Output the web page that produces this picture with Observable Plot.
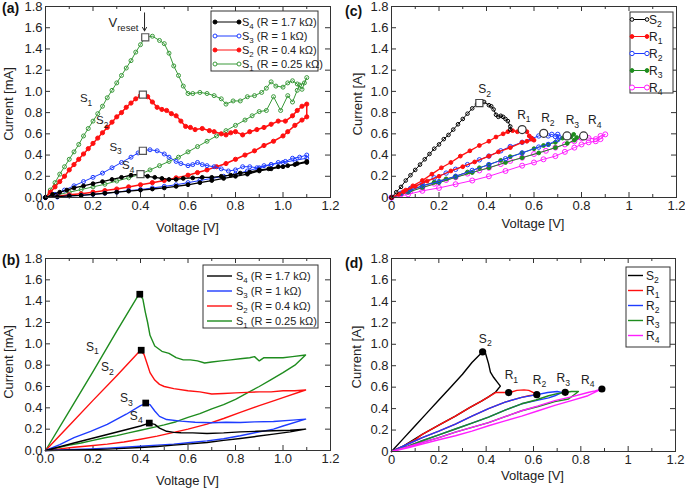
<!DOCTYPE html>
<html><head><meta charset="utf-8">
<script src="https://cdn.jsdelivr.net/npm/d3@7"></script>
<script src="https://cdn.jsdelivr.net/npm/@observablehq/plot@0.6"></script>
<style>
body{margin:0;background:#fff;}
#wrap{position:relative;width:685px;height:488px;overflow:hidden;}
#wrap > .pn{position:absolute;}
</style></head><body><div id="wrap"></div>
<script>
// ---------- tick values and labels ----------
const X_TICKS = [0, 0.2, 0.4, 0.6, 0.8, 1.0, 1.2];
const X_MINOR = [0.1, 0.3, 0.5, 0.7, 0.9, 1.1];
const Y_TICKS = [0, 0.2, 0.4, 0.6, 0.8, 1.0, 1.2, 1.4, 1.6, 1.8];
const X_LABELS_AB = ["0.0","0.2","0.4","0.6","0.8","1.0","1.2"];
const Y_LABELS_AB = ["0.0","0.2","0.4","0.6","0.8","1.0","1.2","1.4","1.6","1.8"];
const X_LABELS_CD = ["0","0.2","0.4","0.6","0.8","1","1.2"];
const Y_LABELS_CD = ["0","0.2","0.4","0.6","0.8","1.0","1.2","1.4","1.6","1.8"];

// ---------- panel (a): measured I-V loops [V, mA] ----------
const a_S1 = [[0,0],[0.02,0.07],[0.04,0.14],[0.06,0.22],[0.08,0.29],[0.10,0.36],[0.12,0.43],[0.14,0.50],[0.16,0.58],[0.18,0.65],[0.20,0.72],[0.22,0.79],[0.24,0.86],[0.26,0.94],[0.28,1.01],[0.30,1.08],[0.32,1.15],[0.34,1.22],[0.36,1.29],[0.38,1.37],[0.40,1.44],[0.42,1.51],[0.45,1.52],[0.48,1.48],[0.50,1.45],[0.52,1.36],[0.54,1.24],[0.56,1.15],[0.58,1.05],[0.60,0.98],[0.62,0.98],[0.65,0.99],[0.68,0.98],[0.71,0.96],[0.74,0.93],[0.76,0.88],[0.79,0.91],[0.82,0.91],[0.85,0.95],[0.88,0.96],[0.91,0.99],[0.93,1.03],[0.95,1.09],[0.97,1.05],[1.00,1.04],[1.02,1.08],[1.04,1.10],[1.06,1.07],[1.08,1.02],[1.10,1.13],
  [1.09,1.08],[1.07,1.06],[1.06,1.01],[1.04,0.90],[1.02,0.96],[0.99,0.82],[0.96,0.95],[0.93,0.82],[0.90,0.81],[0.87,0.77],[0.84,0.73],[0.80,0.68],[0.76,0.63],[0.72,0.58],[0.68,0.53],[0.64,0.48],[0.60,0.43],[0.56,0.38],[0.52,0.34],[0.48,0.30],[0.44,0.26],[0.40,0.22],[0.35,0.185],[0.30,0.155],[0.25,0.125],[0.20,0.10],[0.15,0.075],[0.10,0.05],[0.05,0.025],[0,0]];
const a_S2 = [[0,0],[0.02,0.05],[0.04,0.10],[0.06,0.15],[0.08,0.20],[0.10,0.26],[0.12,0.31],[0.14,0.36],[0.16,0.41],[0.18,0.46],[0.20,0.51],[0.22,0.56],[0.24,0.61],[0.26,0.66],[0.28,0.71],[0.30,0.76],[0.32,0.80],[0.34,0.85],[0.36,0.89],[0.38,0.93],[0.40,0.96],[0.41,0.97],[0.43,0.95],[0.45,0.90],[0.47,0.85],[0.49,0.83],[0.51,0.82],[0.53,0.79],[0.55,0.77],[0.57,0.72],[0.59,0.67],[0.61,0.66],[0.63,0.64],[0.66,0.65],[0.69,0.63],[0.71,0.62],[0.74,0.60],[0.76,0.59],[0.78,0.61],[0.80,0.62],[0.83,0.59],[0.86,0.62],[0.89,0.64],[0.92,0.66],[0.95,0.69],[0.98,0.72],[1.01,0.72],[1.04,0.77],[1.06,0.82],[1.08,0.86],[1.10,0.88],
  [1.10,0.76],[1.08,0.73],[1.05,0.68],[1.02,0.62],[1.00,0.58],[0.96,0.53],[0.92,0.49],[0.88,0.44],[0.84,0.40],[0.80,0.36],[0.76,0.32],[0.72,0.29],[0.68,0.26],[0.64,0.235],[0.60,0.21],[0.55,0.185],[0.50,0.16],[0.45,0.14],[0.40,0.12],[0.35,0.10],[0.30,0.08],[0.25,0.065],[0.20,0.05],[0.15,0.035],[0.10,0.025],[0.05,0.012],[0,0]];
const a_S3 = [[0,0],[0.04,0.03],[0.08,0.07],[0.12,0.11],[0.16,0.15],[0.20,0.19],[0.24,0.23],[0.28,0.28],[0.32,0.33],[0.36,0.38],[0.39,0.42],[0.41,0.44],[0.44,0.45],[0.47,0.44],[0.50,0.41],[0.52,0.38],[0.55,0.34],[0.57,0.32],[0.60,0.30],[0.62,0.31],[0.64,0.33],[0.66,0.31],[0.68,0.30],[0.71,0.29],[0.74,0.27],[0.77,0.25],[0.80,0.26],[0.83,0.29],[0.86,0.29],[0.89,0.28],[0.92,0.30],[0.95,0.31],[0.98,0.33],[1.01,0.34],[1.04,0.37],[1.07,0.38],[1.10,0.40],
  [1.10,0.37],[1.05,0.35],[1.00,0.33],[0.95,0.31],[0.90,0.28],[0.85,0.25],[0.80,0.22],[0.75,0.20],[0.70,0.18],[0.65,0.16],[0.60,0.14],[0.55,0.12],[0.50,0.105],[0.45,0.09],[0.40,0.075],[0.35,0.065],[0.30,0.05],[0.25,0.04],[0.20,0.03],[0.15,0.02],[0.10,0.015],[0.05,0.005],[0,0]];
const a_S4 = [[0,0],[0.03,0.03],[0.06,0.05],[0.09,0.07],[0.12,0.09],[0.16,0.11],[0.20,0.13],[0.24,0.15],[0.28,0.17],[0.32,0.19],[0.36,0.21],[0.40,0.22],[0.43,0.20],[0.46,0.19],[0.49,0.18],[0.52,0.17],[0.55,0.17],[0.58,0.18],[0.62,0.185],[0.66,0.19],[0.70,0.19],[0.74,0.20],[0.78,0.21],[0.82,0.23],[0.86,0.24],[0.90,0.26],[0.94,0.27],[0.98,0.29],[1.02,0.30],[1.06,0.32],[1.10,0.34],
  [1.10,0.33],[1.05,0.31],[1.00,0.29],[0.95,0.27],[0.90,0.25],[0.85,0.22],[0.80,0.20],[0.75,0.18],[0.70,0.16],[0.65,0.14],[0.60,0.12],[0.55,0.105],[0.50,0.09],[0.45,0.08],[0.40,0.07],[0.35,0.06],[0.30,0.05],[0.25,0.04],[0.20,0.03],[0.15,0.02],[0.10,0.015],[0.05,0.008],[0,0]];
const a_peaks = [[0.42,1.51],[0.41,0.97],[0.41,0.44],[0.40,0.22]];
const a_vreset = [[0.417,1.74,1.57]];
const a_labels = [["S","1",0.164,0.93],["S","2",0.232,0.726],["S","3",0.288,0.474],["S","4",0.341,0.30]];

// ---------- panel (b): simulated loops [V, mA] ----------
const b_S1 = [[0,0],[0.1,0.37],[0.2,0.74],[0.3,1.12],[0.395,1.47],[0.41,1.42],[0.42,1.30],[0.43,1.20],[0.44,1.08],[0.46,0.98],[0.49,0.93],[0.52,0.91],[0.55,0.87],[0.58,0.85],[0.61,0.85],[0.64,0.84],[0.67,0.82],[0.70,0.83],[0.74,0.84],[0.78,0.85],[0.82,0.86],[0.86,0.87],[0.88,0.88],[0.90,0.84],[0.92,0.87],[0.96,0.87],[1.00,0.87],[1.04,0.88],[1.095,0.895],
  [1.05,0.80],[1.00,0.73],[0.95,0.665],[0.90,0.60],[0.85,0.54],[0.80,0.48],[0.75,0.43],[0.70,0.39],[0.65,0.345],[0.60,0.31],[0.55,0.27],[0.50,0.24],[0.45,0.215],[0.40,0.19],[0.35,0.165],[0.30,0.14],[0.25,0.12],[0.20,0.095],[0.15,0.07],[0.10,0.05],[0.05,0.025],[0,0]];
const b_S2 = [[0,0],[0.1,0.235],[0.2,0.47],[0.3,0.70],[0.40,0.94],[0.415,0.90],[0.43,0.80],[0.44,0.73],[0.46,0.66],[0.48,0.62],[0.50,0.60],[0.54,0.58],[0.60,0.56],[0.65,0.55],[0.70,0.53],[0.75,0.535],[0.80,0.54],[0.85,0.545],[0.90,0.55],[0.95,0.55],[1.00,0.56],[1.05,0.56],[1.095,0.567],
  [1.00,0.495],[0.96,0.466],[0.90,0.42],[0.82,0.357],[0.75,0.30],[0.68,0.247],[0.60,0.20],[0.54,0.17],[0.47,0.135],[0.40,0.106],[0.33,0.08],[0.26,0.06],[0.19,0.045],[0.12,0.03],[0.06,0.015],[0,0]];
const b_S3 = [[0,0],[0.06,0.055],[0.12,0.12],[0.19,0.18],[0.26,0.245],[0.34,0.34],[0.40,0.42],[0.422,0.44],[0.44,0.43],[0.46,0.37],[0.48,0.32],[0.51,0.29],[0.57,0.275],[0.63,0.265],[0.70,0.26],[0.76,0.265],[0.82,0.263],[0.88,0.268],[0.96,0.272],[1.04,0.285],[1.095,0.294],
  [1.00,0.23],[0.96,0.20],[0.89,0.17],[0.82,0.138],[0.75,0.11],[0.68,0.09],[0.61,0.075],[0.54,0.06],[0.47,0.05],[0.40,0.04],[0.33,0.03],[0.26,0.022],[0.19,0.015],[0.12,0.01],[0,0]];
const b_S4 = [[0,0],[0.06,0.035],[0.12,0.07],[0.19,0.11],[0.26,0.15],[0.33,0.19],[0.40,0.23],[0.437,0.257],[0.46,0.245],[0.48,0.21],[0.51,0.18],[0.54,0.17],[0.57,0.166],[0.62,0.165],[0.68,0.16],[0.75,0.165],[0.82,0.175],[0.89,0.18],[0.96,0.185],[1.03,0.19],[1.095,0.20],
  [1.03,0.175],[0.96,0.153],[0.89,0.133],[0.82,0.113],[0.75,0.095],[0.68,0.075],[0.61,0.062],[0.54,0.05],[0.47,0.038],[0.40,0.028],[0.33,0.02],[0.26,0.013],[0.19,0.008],[0.12,0.005],[0,0]];
const b_peaks = [[0.397,1.465],[0.403,0.94],[0.422,0.445],[0.437,0.257]];
const b_labels = [["S","1",0.19,0.97],["S","2",0.253,0.78],["S","3",0.333,0.49],["S","4",0.375,0.326]];

// ---------- panel (c): measured loops [V, A] ----------
const c_S2 = [[0,0],[0.02,0.05],[0.04,0.10],[0.06,0.16],[0.08,0.21],[0.10,0.26],[0.12,0.31],[0.14,0.36],[0.16,0.41],[0.18,0.46],[0.20,0.50],[0.22,0.55],[0.24,0.59],[0.26,0.64],[0.28,0.69],[0.30,0.74],[0.32,0.79],[0.34,0.84],[0.36,0.88],[0.37,0.89],[0.39,0.90],[0.41,0.87],[0.42,0.86],[0.43,0.83],[0.44,0.78],[0.45,0.76],[0.46,0.77],[0.47,0.76],[0.48,0.74],[0.49,0.72],[0.50,0.67],[0.50,0.64]];
const c_R1 = [[0,0],[0.03,0.03],[0.06,0.07],[0.09,0.11],[0.13,0.16],[0.17,0.22],[0.21,0.28],[0.25,0.33],[0.29,0.39],[0.33,0.44],[0.37,0.49],[0.41,0.53],[0.44,0.57],[0.47,0.60],[0.49,0.62],[0.51,0.63],[0.53,0.62],[0.55,0.64],[0.57,0.62],[0.58,0.58],[0.59,0.56],[0.60,0.54],
  [0.57,0.53],[0.55,0.52],[0.50,0.47],[0.45,0.43],[0.41,0.39],[0.35,0.335],[0.30,0.29],[0.25,0.25],[0.20,0.20],[0.15,0.155],[0.10,0.105],[0.05,0.055],[0,0]];
const c_R2 = [[0,0],[0.04,0.04],[0.08,0.085],[0.13,0.14],[0.18,0.185],[0.23,0.23],[0.27,0.266],[0.32,0.31],[0.37,0.355],[0.41,0.39],[0.46,0.44],[0.50,0.48],[0.55,0.52],[0.59,0.555],[0.62,0.58],[0.645,0.60],[0.66,0.58],[0.675,0.595],[0.69,0.575],[0.70,0.595],[0.705,0.57],
  [0.70,0.545],[0.66,0.50],[0.62,0.475],[0.55,0.42],[0.48,0.365],[0.41,0.31],[0.34,0.255],[0.27,0.20],[0.20,0.15],[0.13,0.11],[0.07,0.06],[0,0]];
const c_R3 = [[0,0],[0.04,0.035],[0.08,0.07],[0.13,0.11],[0.18,0.145],[0.23,0.175],[0.27,0.20],[0.32,0.24],[0.37,0.28],[0.41,0.31],[0.46,0.35],[0.50,0.385],[0.55,0.42],[0.60,0.46],[0.64,0.49],[0.66,0.50],[0.69,0.52],[0.72,0.56],[0.74,0.58],[0.755,0.57],[0.767,0.595],[0.78,0.565],
  [0.77,0.54],[0.74,0.51],[0.69,0.47],[0.62,0.42],[0.55,0.375],[0.48,0.33],[0.41,0.28],[0.34,0.235],[0.27,0.19],[0.20,0.14],[0.13,0.094],[0.07,0.05],[0,0]];
const c_R4 = [[0,0],[0.04,0.03],[0.08,0.06],[0.13,0.094],[0.18,0.13],[0.23,0.165],[0.27,0.19],[0.32,0.225],[0.37,0.255],[0.41,0.28],[0.46,0.315],[0.50,0.345],[0.55,0.375],[0.60,0.41],[0.65,0.44],[0.69,0.47],[0.73,0.50],[0.77,0.53],[0.80,0.56],[0.81,0.58],[0.83,0.56],[0.86,0.55],[0.88,0.58],[0.90,0.595],
  [0.88,0.55],[0.86,0.53],[0.83,0.52],[0.80,0.50],[0.77,0.47],[0.73,0.43],[0.69,0.39],[0.64,0.36],[0.60,0.33],[0.55,0.30],[0.48,0.25],[0.41,0.20],[0.34,0.16],[0.27,0.125],[0.20,0.09],[0.13,0.063],[0.07,0.03],[0,0]];
const c_square = [[0.37,0.89]];
const c_circles = [[0.55,0.64],[0.641,0.605],[0.739,0.58],[0.809,0.58]];
const c_labels = [["S","2",0.385,1.02],["R","1",0.549,0.78],["R","2",0.65,0.745],["R","3",0.753,0.727],["R","4",0.847,0.727]];

// ---------- panel (d): simulated loops [V, A] ----------
const d_S2 = [[0,0],[0.05,0.12],[0.10,0.24],[0.15,0.36],[0.20,0.48],[0.25,0.60],[0.30,0.72],[0.34,0.83],[0.385,0.93],[0.396,0.926],[0.41,0.82],[0.418,0.74],[0.432,0.69],[0.446,0.65],[0.46,0.61],[0.44,0.555],[0.41,0.51],[0.38,0.47],[0.33,0.41],[0.27,0.33],[0.20,0.245],[0.13,0.16],[0.05,0.05],[0,0]];
const d_R1 = [[0,0],[0.05,0.05],[0.10,0.11],[0.13,0.16],[0.20,0.245],[0.27,0.33],[0.33,0.41],[0.38,0.47],[0.41,0.51],[0.44,0.55],[0.47,0.55],[0.50,0.55],[0.53,0.57],[0.56,0.575],[0.58,0.57],[0.60,0.55],[0.615,0.53],
  [0.58,0.52],[0.55,0.505],[0.48,0.46],[0.41,0.40],[0.34,0.33],[0.27,0.256],[0.20,0.19],[0.13,0.13],[0.07,0.07],[0,0]];
const d_R2 = [[0,0],[0.07,0.07],[0.13,0.13],[0.20,0.19],[0.27,0.256],[0.34,0.33],[0.41,0.40],[0.48,0.46],[0.55,0.505],[0.615,0.53],[0.66,0.55],[0.70,0.56],[0.72,0.55],
  [0.69,0.52],[0.664,0.50],[0.61,0.475],[0.55,0.445],[0.48,0.385],[0.41,0.32],[0.34,0.265],[0.27,0.21],[0.20,0.155],[0.13,0.10],[0.07,0.05],[0,0]];
const d_R3 = [[0,0],[0.07,0.05],[0.13,0.10],[0.20,0.155],[0.27,0.21],[0.34,0.265],[0.41,0.32],[0.48,0.385],[0.55,0.445],[0.61,0.48],[0.664,0.52],[0.70,0.54],[0.734,0.55],[0.76,0.56],[0.79,0.56],
  [0.748,0.49],[0.69,0.465],[0.62,0.42],[0.55,0.38],[0.48,0.325],[0.41,0.27],[0.34,0.225],[0.27,0.18],[0.20,0.13],[0.13,0.085],[0.07,0.045],[0,0]];
const d_R4 = [[0,0],[0.07,0.045],[0.13,0.085],[0.20,0.13],[0.27,0.18],[0.34,0.225],[0.41,0.27],[0.48,0.325],[0.55,0.38],[0.62,0.425],[0.69,0.474],[0.76,0.51],[0.83,0.55],[0.86,0.565],[0.889,0.583],
  [0.83,0.52],[0.76,0.475],[0.69,0.43],[0.62,0.38],[0.55,0.33],[0.48,0.285],[0.41,0.24],[0.34,0.19],[0.27,0.147],[0.20,0.11],[0.13,0.07],[0.07,0.035],[0,0]];
const d_dots = [[0.385,0.93],[0.495,0.55],[0.614,0.53],[0.734,0.552],[0.889,0.583]];
const d_labels = [["S","2",0.389,1.05],["R","1",0.498,0.71],["R","2",0.617,0.668],["R","3",0.717,0.683],["R","4",0.821,0.668]];

// ---------- styling ----------
const FONT = '"Liberation Sans", Arial, Helvetica, sans-serif';
const AX = "#333";
const BLACK = "#000", RED = "#ff1010", BLUE = "#1e3cff", GREEN_A = "#3a9a3a", GREEN_B = "#1e8c1e", MAGENTA = "#ff1eff";

const px = d => d[0], py = d => d[1];

function makePanel(cfg) {
  const width = 342, height = 244;
  const {ml, mr, mt, mb} = cfg;
  const iw = width - ml - mr, ih = height - mt - mb;
  const xFmt = new Map(X_TICKS.map((t, i) => [t, cfg.xLabels[i]]));
  const yFmt = new Map(Y_TICKS.map((t, i) => [t, cfg.yLabels[i]]));
  const marks = [
    Plot.tickX(X_TICKS, {x: d => d, insetTop: ih - 5, stroke: AX}),
    Plot.tickX(X_TICKS, {x: d => d, insetBottom: ih - 5, stroke: AX}),
    Plot.tickX(X_MINOR, {x: d => d, insetTop: ih - 3, stroke: AX}),
    Plot.tickX(X_MINOR, {x: d => d, insetBottom: ih - 3, stroke: AX}),
    Plot.tickY(Y_TICKS, {y: d => d, insetRight: iw - 5, stroke: AX}),
    Plot.tickY(Y_TICKS, {y: d => d, insetLeft: iw - 5, stroke: AX}),
    Plot.axisX({ticks: X_TICKS, tickSize: 0, tickPadding: 3, tickFormat: d => xFmt.get(d), label: null}),
    Plot.axisY({ticks: Y_TICKS, tickSize: 0, tickPadding: 3, tickFormat: d => yFmt.get(d), label: null})
  ];
  for (const s of cfg.series) {
    marks.push(Plot.line(s.data, {x: px, y: py, stroke: s.color, strokeWidth: s.sw || 1}));
    if (s.r) marks.push(Plot.dot(s.data, {x: px, y: py, r: s.r, stroke: s.color, fill: s.filled ? s.color : "none", strokeWidth: 1}));
  }
  marks.push(...(cfg.extra || []));
  marks.push(Plot.frame({stroke: AX}));
  const svg = Plot.plot({
    width, height, marginLeft: ml, marginRight: mr, marginTop: mt, marginBottom: mb,
    x: {domain: [0, 1.2]}, y: {domain: [0, 1.8]},
    style: {fontFamily: FONT, fontSize: "13px", color: "#222", background: "transparent"},
    marks
  });
  decorate(svg, cfg);
  const holder = document.createElement("div");
  holder.className = "pn";
  holder.style.left = cfg.left + "px";
  holder.style.top = cfg.top + "px";
  holder.appendChild(svg);
  document.getElementById("wrap").appendChild(holder);
}

function richText(g, x, y, main, sub, rest, size, subSize) {
  const t = g.append("text").attr("x", x).attr("y", y).attr("font-size", size)
    .attr("fill", "#222").attr("text-anchor", "start");
  t.append("tspan").text(main);
  if (sub) t.append("tspan").attr("font-size", subSize).attr("dy", size * 0.3).text(sub);
  if (rest) t.append("tspan").attr("dy", sub ? -size * 0.3 : 0).text(rest);
  return t;
}

function decorate(svg, cfg) {
  const g = d3.select(svg).append("g").attr("font-family", FONT).attr("text-anchor", "start");
  const sx = svg.scale("x"), sy = svg.scale("y");
  g.append("text").attr("x", cfg.letterPos[0]).attr("y", cfg.letterPos[1]).attr("text-anchor", "start")
    .attr("font-size", 14).attr("font-weight", "bold").attr("fill", "#111").text(cfg.letter);
  g.append("text").attr("x", cfg.xTitlePos[0]).attr("y", cfg.xTitlePos[1]).attr("text-anchor", "middle")
    .attr("font-size", 13).attr("fill", "#222").text("Voltage [V]");
  g.append("text").attr("transform", `translate(${cfg.yTitlePos[0]},${cfg.yTitlePos[1]}) rotate(-90)`)
    .attr("text-anchor", "middle").attr("font-size", 13).attr("fill", "#222").text(cfg.yTitle);
  const ls = cfg.labelSize;
  for (const [m, s, v, i] of cfg.labels) {
    richText(g, sx.apply(v) - ls * 0.35, sy.apply(i) + ls * 0.36, m, s, "", ls, ls * 0.72);
  }
  if (cfg.afterDecorate) cfg.afterDecorate(g, sx, sy);
  // legend
  const L = cfg.legend;
  g.append("rect").attr("x", L.box[0]).attr("y", L.box[1]).attr("width", L.box[2]).attr("height", L.box[3])
    .attr("fill", "white").attr("stroke", AX);
  L.entries.forEach((e, k) => {
    const y = L.y0 + k * L.dy;
    g.append("line").attr("x1", L.x1).attr("x2", L.x2).attr("y1", y).attr("y2", y)
      .attr("stroke", e.color).attr("stroke-width", e.sw || 1);
    if (e.r) for (const x of [L.x1, L.x2]) {
      g.append("circle").attr("cx", x).attr("cy", y).attr("r", e.r)
        .attr("stroke", e.color).attr("fill", e.filled ? e.color : "white");
    }
    richText(g, L.tx, y + L.size * 0.36, e.main, e.sub, e.rest, L.size, L.size * 0.72);
  });
}

// ---------- panels ----------
makePanel({
  left: 0, top: 0, ml: 45, mr: 12, mt: 6, mb: 47,
  xLabels: X_LABELS_AB, yLabels: Y_LABELS_AB,
  series: [
    {data: a_S1, color: GREEN_A, r: 2, filled: false},
    {data: a_S2, color: RED, r: 2.1, filled: true, sw: 1.5},
    {data: a_S3, color: BLUE, r: 2, filled: false},
    {data: a_S4, color: BLACK, r: 1.9, filled: true, sw: 1.3}
  ],
  extra: [
    Plot.dot(a_peaks, {x: px, y: py, symbol: "square", r: 4, fill: "white", stroke: "#555", strokeWidth: 1.2}),
    Plot.arrow(a_vreset, {x1: d => d[0], y1: d => d[1], x2: d => d[0], y2: d => d[2], stroke: "#222", headLength: 6, strokeWidth: 1})
  ],
  afterDecorate: (g, sx, sy) => {
    richText(g, sx.apply(0.286) - 4.4, sy.apply(1.65) + 4.7, "V", "reset", "", 13, 9.5);
  },
  letter: "(a)", letterPos: [2, 12.5],
  xTitlePos: [187.5, 231.5], yTitle: "Current [mA]", yTitlePos: [12.5, 104],
  labels: a_labels, labelSize: 11.5,
  legend: {box: [211, 11, 107, 60], x1: 215, x2: 239, tx: 242, y0: 22, dy: 14, size: 11,
    entries: [
      {main: "S", sub: "4", rest: " (R = 1.7 kΩ)", color: BLACK, r: 2, filled: true},
      {main: "S", sub: "3", rest: " (R = 1 kΩ)", color: BLUE, r: 2, filled: false},
      {main: "S", sub: "2", rest: " (R = 0.4 kΩ)", color: RED, r: 2, filled: true},
      {main: "S", sub: "1", rest: " (R = 0.25 kΩ)", color: GREEN_A, r: 2, filled: false}
    ]}
});

makePanel({
  left: 0, top: 244, ml: 45, mr: 12, mt: 14, mb: 38,
  xLabels: X_LABELS_AB, yLabels: Y_LABELS_AB,
  series: [
    {data: b_S1, color: GREEN_B, sw: 1.4},
    {data: b_S2, color: RED, sw: 1.4},
    {data: b_S3, color: BLUE, sw: 1.4},
    {data: b_S4, color: BLACK, sw: 1.4}
  ],
  extra: [Plot.dot(b_peaks, {x: px, y: py, symbol: "square", r: 3.8, fill: "#000"})],
  letter: "(b)", letterPos: [2, 21],
  xTitlePos: [187.5, 241], yTitle: "Current [mA]", yTitlePos: [12.5, 118],
  labels: b_labels, labelSize: 12,
  legend: {box: [203, 21, 115, 63], x1: 207, x2: 232, tx: 236, y0: 32, dy: 15, size: 11,
    entries: [
      {main: "S", sub: "4", rest: " (R = 1.7 kΩ)", color: BLACK, sw: 1.4},
      {main: "S", sub: "3", rest: " (R = 1 kΩ)", color: BLUE, sw: 1.4},
      {main: "S", sub: "2", rest: " (R = 0.4 kΩ)", color: RED, sw: 1.4},
      {main: "S", sub: "1", rest: " (R = 0.25 kΩ)", color: GREEN_B, sw: 1.4}
    ]}
});

makePanel({
  left: 343, top: 0, ml: 48, mr: 9, mt: 6, mb: 47,
  xLabels: X_LABELS_CD, yLabels: Y_LABELS_CD,
  series: [
    {data: c_R4, color: MAGENTA, r: 2.5, filled: false},
    {data: c_R3, color: GREEN_B, r: 1.9, filled: true},
    {data: c_R2, color: BLUE, r: 2.2, filled: false},
    {data: c_R1, color: RED, r: 1.9, filled: true, sw: 1.3},
    {data: c_S2, color: BLACK, r: 1.8, filled: false}
  ],
  extra: [
    Plot.dot(c_square, {x: px, y: py, symbol: "square", r: 4, fill: "white", stroke: "#444", strokeWidth: 1.2}),
    Plot.dot(c_circles, {x: px, y: py, r: 4, fill: "white", stroke: "#333", strokeWidth: 1.2})
  ],
  letter: "(c)", letterPos: [2, 16],
  xTitlePos: [190, 228], yTitle: "Current [A]", yTitlePos: [18.5, 104],
  labels: c_labels, labelSize: 12,
  legend: {box: [287, 12, 43, 81], x1: 289, x2: 304, tx: 306, y0: 19.5, dy: 17, size: 12,
    entries: [
      {main: "S", sub: "2", color: BLACK, r: 1.8, filled: false},
      {main: "R", sub: "1", color: RED, r: 1.9, filled: true},
      {main: "R", sub: "2", color: BLUE, r: 2.2, filled: false},
      {main: "R", sub: "3", color: GREEN_B, r: 1.9, filled: true},
      {main: "R", sub: "4", color: MAGENTA, r: 2.5, filled: false}
    ]}
});

makePanel({
  left: 343, top: 244, ml: 48, mr: 10, mt: 14, mb: 37,
  xLabels: X_LABELS_CD, yLabels: Y_LABELS_CD,
  series: [
    {data: d_S2, color: BLACK, sw: 1.4},
    {data: d_R1, color: RED, sw: 1.4},
    {data: d_R2, color: BLUE, sw: 1.4},
    {data: d_R3, color: GREEN_B, sw: 1.4},
    {data: d_R4, color: MAGENTA, sw: 1.4}
  ],
  extra: [Plot.dot(d_dots, {x: px, y: py, r: 3.6, fill: "#000"})],
  letter: "(d)", letterPos: [2, 23.5],
  xTitlePos: [189.5, 235.5], yTitle: "Current [A]", yTitlePos: [18, 113],
  labels: d_labels, labelSize: 12,
  legend: {box: [283, 23, 44, 80], x1: 285, x2: 300, tx: 303, y0: 31.5, dy: 15, size: 12,
    entries: [
      {main: "S", sub: "2", color: BLACK, sw: 1.4},
      {main: "R", sub: "1", color: RED, sw: 1.4},
      {main: "R", sub: "2", color: BLUE, sw: 1.4},
      {main: "R", sub: "3", color: GREEN_B, sw: 1.4},
      {main: "R", sub: "4", color: MAGENTA, sw: 1.4}
    ]}
});
</script></body></html>
